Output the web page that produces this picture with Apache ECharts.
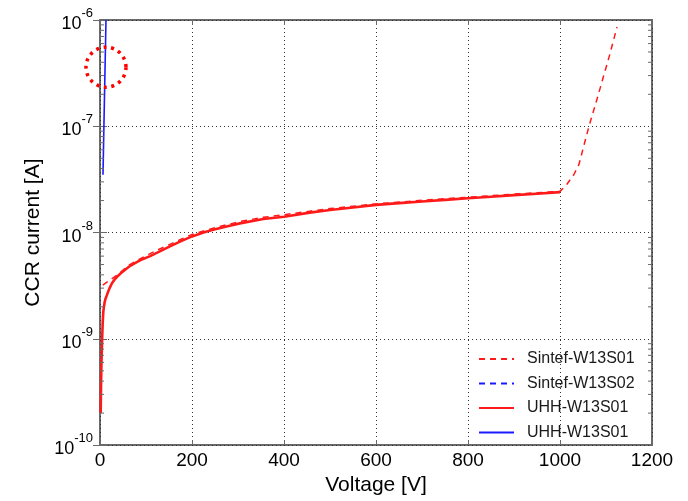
<!DOCTYPE html>
<html>
<head>
<meta charset="utf-8">
<script src="https://cdn.jsdelivr.net/npm/echarts@6/dist/echarts.min.js"></script>
<style>
  html, body { margin: 0; padding: 0; background: #fff; }
  #chart { width: 688px; height: 501px; }
</style>
</head>
<body>
<div id="chart"></div>
<script>
// Voltage ticks [V] and decade exponents of the current axis
const xTickValues = [0, 200, 400, 600, 800, 1000, 1200];
const yDecades = [-10, -9, -8, -7, -6];

// Legend labels
const legendLabels = ['Sintef-W13S01', 'Sintef-W13S02', 'UHH-W13S01', 'UHH-W13S01'];

// Sintef-W13S01 : [voltage V, current A]
const sintefS01 = [
  [6, 3.2e-9], [40, 4.07e-9], [61.5, 4.9e-9], [91, 5.78e-9], [120, 6.7e-9],
  [152, 7.75e-9], [175, 8.6e-9], [200, 9.6e-9], [246, 1.1e-8], [304, 1.27e-8],
  [355, 1.39e-8], [400, 1.47e-8], [456, 1.59e-8], [500, 1.68e-8], [600, 1.86e-8],
  [700, 2.01e-8], [800, 2.15e-8], [900, 2.3e-8], [1000, 2.44e-8], [1015, 2.85e-8],
  [1030, 3.5e-8], [1041, 4.35e-8], [1052, 6.6e-8], [1063, 1.0e-7], [1077, 1.6e-7],
  [1091, 2.6e-7], [1108, 4.7e-7], [1124, 8.6e-7]
];

// Sintef-W13S02 : no points inside the plotted range
const sintefS02 = [];

// UHH-W13S01 (red)
const uhhS01Red = [
  [1.5, 2.0e-10], [2.2, 3.5e-10], [3, 5.5e-10], [4, 8.0e-10], [5, 1.1e-9],
  [6, 1.45e-9], [7.2, 1.8e-9], [8.5, 2.0e-9], [10, 2.2e-9], [12, 2.38e-9],
  [14.6, 2.55e-9], [18, 2.8e-9], [21.7, 3.05e-9], [26, 3.33e-9], [32.6, 3.65e-9],
  [40, 3.95e-9], [47, 4.2e-9], [54, 4.45e-9], [65, 4.84e-9], [75, 5.12e-9],
  [91, 5.58e-9], [109, 6.0e-9], [130, 6.65e-9], [152, 7.42e-9], [175, 8.26e-9],
  [200, 9.2e-9], [225, 1.0e-8], [246, 1.06e-8], [275, 1.14e-8], [304, 1.22e-8],
  [355, 1.34e-8], [400, 1.41e-8], [456, 1.54e-8], [500, 1.63e-8], [550, 1.72e-8],
  [600, 1.82e-8], [650, 1.89e-8], [700, 1.96e-8], [750, 2.03e-8], [800, 2.1e-8],
  [850, 2.17e-8], [900, 2.25e-8], [950, 2.32e-8], [1000, 2.4e-8]
];

// UHH-W13S01 (blue)
const uhhS01Blue = [
  [6.5, 3.5e-8], [8.5, 1.0e-7], [13, 1.0e-6]
];

// Highlighted region (voltage, current)
const highlight = [[13, 3.6e-7]];

// Minor log ticks 2..9 within each decade
const minorTickValues = [];
for (let d = -10; d < -6; d++) {
  for (let m = 2; m <= 9; m++) minorTickValues.push(m * Math.pow(10, d));
}

const FONT = 'Liberation Sans, Arial, sans-serif';
const FRAME = '#6a6a6a';

const chart = echarts.init(document.getElementById('chart'), null, { renderer: 'canvas' });

const yLabel = function (v) {
  const e = Math.round(Math.log10(v));
  return '{b|10}{s|' + e + '}';
};

const commonX = {
  type: 'value', min: 0, max: 1200, interval: 200,
  axisLine: { show: false },
  axisTick: { show: true, inside: true, length: 5, lineStyle: { color: FRAME, width: 1 } },
  splitLine: { show: false }
};
const commonY = {
  type: 'log', logBase: 10, min: 1e-10, max: 1e-6,
  axisLine: { show: false },
  axisTick: { show: true, inside: true, length: 7, lineStyle: { color: FRAME, width: 1 } },
  splitLine: { show: false },
  minorTick: { show: false }
};

const option = {
  backgroundColor: '#fff',
  animation: false,
  textStyle: { fontFamily: FONT },
  grid: {
    left: 100, right: 36, top: 20, bottom: 49,
    show: true, borderColor: FRAME, borderWidth: 2, backgroundColor: 'transparent'
  },
  legend: {
    orient: 'vertical', left: 473, top: 346,
    itemWidth: 35, itemHeight: 14, itemGap: 8.5,
    data: ['s01', 's02', 'uhhRed', 'uhhBlue'],
    itemStyle: { color: 'transparent', borderColor: 'transparent', borderWidth: 0 },
    formatter: function (name) {
      return { s01: legendLabels[0], s02: legendLabels[1], uhhRed: legendLabels[2], uhhBlue: legendLabels[3] }[name];
    },
    textStyle: { fontSize: 16, color: '#1a1a1a', fontFamily: FONT, padding: [0, 0, 0, 8] }
  },
  xAxis: [
    Object.assign({}, commonX, {
      position: 'bottom',
      name: 'Voltage [V]', nameLocation: 'middle', nameGap: 27,
      nameTextStyle: { fontSize: 21, color: '#000', fontFamily: FONT },
      axisLabel: {
        show: true, fontSize: 19, color: '#000', margin: 6, fontFamily: FONT,
        formatter: function (v) { return String(v); }
      },
      splitLine: { show: true, lineStyle: { color: '#333', width: 1, type: [1, 3] } }
    }),
    Object.assign({}, commonX, { position: 'top', axisLabel: { show: false } })
  ],
  yAxis: [
    Object.assign({}, commonY, {
      position: 'left',
      name: 'CCR current [A]', nameLocation: 'middle', nameGap: 56,
      nameTextStyle: { fontSize: 21, color: '#000', fontFamily: FONT },
      axisLabel: {
        show: true, margin: 7, formatter: yLabel,
        rich: {
          b: { fontSize: 18, color: '#000', fontFamily: FONT, lineHeight: 26, verticalAlign: 'bottom' },
          s: { fontSize: 13, color: '#000', fontFamily: FONT, lineHeight: 26, verticalAlign: 'top' }
        }
      },
      splitLine: { show: true, lineStyle: { color: '#333', width: 1, type: [1, 3] } }
    }),
    Object.assign({}, commonY, { position: 'right', axisLabel: { show: false } })
  ],
  series: [
    {
      id: 'minorTicks', type: 'custom', xAxisIndex: 0, yAxisIndex: 0, silent: true, z: 5,
      data: minorTickValues.map(v => [0, v]),
      renderItem: function (params, api) {
        const v = api.value(1);
        const l = api.coord([0, v]);
        const r = api.coord([1200, v]);
        const st = { stroke: FRAME, lineWidth: 1 };
        return {
          type: 'group',
          children: [
            { type: 'line', shape: { x1: l[0], y1: l[1], x2: l[0] + 4, y2: l[1] }, style: st },
            { type: 'line', shape: { x1: r[0], y1: r[1], x2: r[0] - 4, y2: r[1] }, style: st }
          ]
        };
      }
    },
    {
      name: 's02', type: 'line', data: sintefS02, symbol: 'none', z: 3,
      lineStyle: { color: '#1a1aff', width: 1.5, type: [6, 5] }, itemStyle: { color: '#1a1aff' }
    },
    {
      name: 'uhhRed', type: 'line', data: uhhS01Red, symbol: 'none', z: 3,
      lineStyle: { color: '#ff1a1a', width: 2.6, join: 'round' }, itemStyle: { color: '#ff1a1a' }
    },
    {
      name: 's01', type: 'line', data: sintefS01, symbol: 'none', z: 4,
      lineStyle: { color: '#ff1a1a', width: 1.5, type: [6, 5] }, itemStyle: { color: '#ff1a1a' }
    },
    {
      name: 'uhhBlue', type: 'line', data: uhhS01Blue, symbol: 'none', z: 4,
      lineStyle: { color: '#1a1aff', width: 1.6 }, itemStyle: { color: '#1a1aff' }
    },
    {
      id: 'highlight', type: 'custom', silent: true, z: 6, clip: false,
      data: highlight,
      renderItem: function (params, api) {
        const c = api.coord([api.value(0), api.value(1)]);
        return {
          type: 'circle',
          shape: { cx: c[0], cy: c[1], r: 20 },
          style: { fill: 'none', stroke: '#ff0000', lineWidth: 3.5, lineDash: [3, 4.6] }
        };
      }
    }
  ]
};

chart.setOption(option);
</script>
</body>
</html>
